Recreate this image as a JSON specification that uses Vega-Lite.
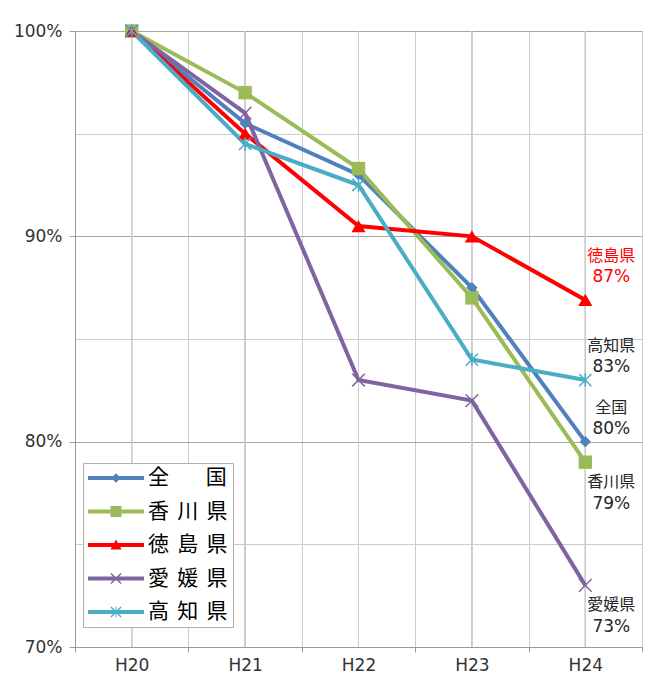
{
  "$schema": "https://vega.github.io/schema/vega-lite/v6.json",
  "width": 567,
  "height": 616,
  "autosize": "none",
  "padding": {"left": 75, "top": 31, "right": 16, "bottom": 51},
  "background": "#FFFFFF",
  "config": {"font": "DejaVu Sans", "view": {"stroke": null}},
  "data": {
    "values": [
      {"series": "全国", "year": "H20", "value": 1.0},
      {"series": "全国", "year": "H21", "value": 0.955},
      {"series": "全国", "year": "H22", "value": 0.93},
      {"series": "全国", "year": "H23", "value": 0.875},
      {"series": "全国", "year": "H24", "value": 0.8},
      {"series": "香川県", "year": "H20", "value": 1.0},
      {"series": "香川県", "year": "H21", "value": 0.97},
      {"series": "香川県", "year": "H22", "value": 0.933},
      {"series": "香川県", "year": "H23", "value": 0.87},
      {"series": "香川県", "year": "H24", "value": 0.79},
      {"series": "徳島県", "year": "H20", "value": 1.0},
      {"series": "徳島県", "year": "H21", "value": 0.95},
      {"series": "徳島県", "year": "H22", "value": 0.905},
      {"series": "徳島県", "year": "H23", "value": 0.9},
      {"series": "徳島県", "year": "H24", "value": 0.869},
      {"series": "愛媛県", "year": "H20", "value": 1.0},
      {"series": "愛媛県", "year": "H21", "value": 0.96},
      {"series": "愛媛県", "year": "H22", "value": 0.83},
      {"series": "愛媛県", "year": "H23", "value": 0.82},
      {"series": "愛媛県", "year": "H24", "value": 0.73},
      {"series": "高知県", "year": "H20", "value": 1.0},
      {"series": "高知県", "year": "H21", "value": 0.945},
      {"series": "高知県", "year": "H22", "value": 0.925},
      {"series": "高知県", "year": "H23", "value": 0.84},
      {"series": "高知県", "year": "H24", "value": 0.83}
    ]
  },
  "encoding": {
    "x": {
      "field": "year",
      "type": "ordinal",
      "scale": {"type": "band", "paddingInner": 0, "paddingOuter": 0},
      "axis": {
        "title": null,
        "labelAngle": 0,
        "tickBand": "extent",
        "grid": true,
        "gridColor": "#CCCCCC",
        "domainColor": "#999999",
        "tickColor": "#999999",
        "tickSize": 5,
        "labelFont": "DejaVu Sans",
        "labelFontSize": 17,
        "labelColor": "#333333",
        "labelPadding": 5
      }
    }
  },
  "layer": [
    {
      "mark": {"type": "rule", "color": "#CCCCCC", "strokeWidth": 1},
      "encoding": {}
    },
    {
      "mark": {"type": "line", "strokeWidth": 4},
      "encoding": {
        "y": {
          "field": "value",
          "type": "quantitative",
          "scale": {"domain": [0.7, 1.0], "nice": false, "zero": false},
          "axis": {
            "title": null,
            "values": [0.7, 0.75, 0.8, 0.85, 0.9, 0.95, 1.0],
            "labelExpr": "round(datum.value * 100) % 10 == 0 ? format(datum.value, '.0%') : ''",
            "grid": true,
            "gridColor": {"condition": {"test": "round(datum.value * 100) % 10 == 0", "value": "#A6A6A6"}, "value": "#CCCCCC"},
            "tickOpacity": {"condition": {"test": "round(datum.value * 100) % 10 == 0", "value": 1}, "value": 0},
            "domainColor": "#999999",
            "tickColor": "#999999",
            "tickSize": 6,
            "labelFont": "DejaVu Sans",
            "labelFontSize": 17,
            "labelColor": "#333333",
            "labelPadding": 7
          }
        },
        "color": {
          "field": "series",
          "type": "nominal",
          "sort": ["全国", "香川県", "徳島県", "愛媛県", "高知県"],
          "scale": {"range": ["#4F81BD", "#9BBB59", "#FF0000", "#8064A2", "#4BACC6"]},
          "legend": null
        }
      }
    },
    {
      "transform": [{"filter": "datum.series == '全国'"}],
      "mark": {"type": "point", "shape": "diamond", "filled": true, "size": 130, "opacity": 1},
      "encoding": {
        "y": {"field": "value", "type": "quantitative"},
        "color": {"field": "series", "type": "nominal", "sort": ["全国", "香川県", "徳島県", "愛媛県", "高知県"], "legend": null}
      }
    },
    {
      "transform": [{"filter": "datum.series == '香川県'"}],
      "mark": {"type": "point", "shape": "square", "filled": true, "size": 180, "opacity": 1},
      "encoding": {
        "y": {"field": "value", "type": "quantitative"},
        "color": {"field": "series", "type": "nominal", "sort": ["全国", "香川県", "徳島県", "愛媛県", "高知県"], "legend": null}
      }
    },
    {
      "transform": [{"filter": "datum.series == '徳島県'"}],
      "mark": {"type": "point", "shape": "triangle-up", "filled": true, "size": 200, "opacity": 1},
      "encoding": {
        "y": {"field": "value", "type": "quantitative"},
        "color": {"field": "series", "type": "nominal", "sort": ["全国", "香川県", "徳島県", "愛媛県", "高知県"], "legend": null}
      }
    },
    {
      "transform": [{"filter": "datum.series == '愛媛県'"}],
      "mark": {"type": "point", "shape": "M-1,-1L1,1M-1,1L1,-1", "filled": false, "size": 160, "strokeWidth": 1.5, "opacity": 1},
      "encoding": {
        "y": {"field": "value", "type": "quantitative"},
        "color": {"field": "series", "type": "nominal", "sort": ["全国", "香川県", "徳島県", "愛媛県", "高知県"], "legend": null}
      }
    },
    {
      "transform": [{"filter": "datum.series == '高知県'"}],
      "mark": {"type": "point", "shape": "M-1,-1L1,1M-1,1L1,-1M0,-1.1L0,1.1", "filled": false, "size": 150, "strokeWidth": 1.5, "opacity": 1},
      "encoding": {
        "y": {"field": "value", "type": "quantitative"},
        "color": {"field": "series", "type": "nominal", "sort": ["全国", "香川県", "徳島県", "愛媛県", "高知県"], "legend": null}
      }
    },
    {
      "mark": {"type": "point", "filled": true, "opacity": 0},
      "encoding": {
        "y": {"field": "value", "type": "quantitative"},
        "fill": {
          "field": "series",
          "type": "nominal",
          "scale": {
            "domain": ["全国", "香川県", "徳島県", "愛媛県", "高知県"],
            "range": ["#4F81BD", "#9BBB59", "#FF0000", "#8064A2", "#4BACC6"]
          },
          "legend": {
            "title": null, "orient": "none", "legendX": 8, "legendY": 432,
            "fillColor": "#FFFFFF", "strokeColor": "#B0B0B0", "padding": 5,
            "symbolSize": 3136, "symbolStrokeWidth": 0, "symbolOpacity": 1,
            "clipHeight": 20, "rowPadding": 12.5,
            "labelFont": "Noto Sans CJK JP", "labelFontSize": 21, "labelColor": "#000000",
            "labelOffset": 4, "labelLimit": 200,
            "labelExpr": "datum.label == '全国' ? '全\u3000\u2002\u2005国' : datum.label == '香川県' ? '香\u2004\u200a川\u2004\u200a県' : datum.label == '徳島県' ? '徳\u2004\u200a島\u2004\u200a県' : datum.label == '愛媛県' ? '愛\u2004\u200a媛\u2004\u200a県' : '高\u2004\u200a知\u2004\u200a県'"
          }
        },
        "shape": {
          "field": "series",
          "type": "nominal",
          "scale": {
            "domain": ["全国", "香川県", "徳島県", "愛媛県", "高知県"],
            "range": [
              "M-1,-0.07L1,-0.07L1,0.07L-1,0.07ZM0,-0.17L0.17,0L0,0.17L-0.17,0Z",
              "M-1,-0.07L1,-0.07L1,0.07L-1,0.07ZM-0.2,-0.2L0.2,-0.2L0.2,0.2L-0.2,0.2Z",
              "M-1,-0.07L1,-0.07L1,0.07L-1,0.07ZM0,-0.2L0.2,0.16L-0.2,0.16Z",
              "M-1,-0.07L1,-0.07L1,0.07L-1,0.07ZM-0.162,-0.198L0.198,0.162L0.162,0.198L-0.198,-0.162ZM-0.162,0.198L-0.198,0.162L0.162,-0.198L0.198,-0.162Z",
              "M-1,-0.07L1,-0.07L1,0.07L-1,0.07ZM-0.162,-0.198L0.198,0.162L0.162,0.198L-0.198,-0.162ZM-0.162,0.198L-0.198,0.162L0.162,-0.198L0.198,-0.162ZM-0.018,-0.2L0.018,-0.2L0.018,0.2L-0.018,0.2Z"
            ]
          },
          "legend": {
            "title": null, "orient": "none", "legendX": 8, "legendY": 432,
            "fillColor": "#FFFFFF", "strokeColor": "#B0B0B0", "padding": 5,
            "symbolSize": 3136, "symbolStrokeWidth": 0, "symbolOpacity": 1,
            "clipHeight": 20, "rowPadding": 12.5,
            "labelFont": "Noto Sans CJK JP", "labelFontSize": 21, "labelColor": "#000000",
            "labelOffset": 4, "labelLimit": 200,
            "labelExpr": "datum.label == '全国' ? '全\u3000\u2002\u2005国' : datum.label == '香川県' ? '香\u2004\u200a川\u2004\u200a県' : datum.label == '徳島県' ? '徳\u2004\u200a島\u2004\u200a県' : datum.label == '愛媛県' ? '愛\u2004\u200a媛\u2004\u200a県' : '高\u2004\u200a知\u2004\u200a県'"
          }
        }
      }
    },
    {
      "transform": [{"filter": "datum.year == 'H24' && datum.series == '徳島県'"}],
      "mark": {"type": "text", "font": "Noto Sans CJK JP", "fontSize": 16, "color": "#FF0000", "dx": 26, "dy": -44},
      "encoding": {
        "y": {"field": "value", "type": "quantitative"},
        "text": {"field": "series"}
      }
    },
    {
      "transform": [{"filter": "datum.year == 'H24' && datum.series == '徳島県'"}],
      "mark": {"type": "text", "font": "DejaVu Sans", "fontSize": 17, "color": "#FF0000", "dx": 26, "dy": -23},
      "encoding": {
        "y": {"field": "value", "type": "quantitative"},
        "text": {"field": "value", "type": "quantitative", "format": ".0%"}
      }
    },
    {
      "transform": [{"filter": "datum.year == 'H24' && (datum.series == '高知県' || datum.series == '全国')"}],
      "mark": {"type": "text", "font": "Noto Sans CJK JP", "fontSize": 16, "color": "#262626", "dx": 26, "dy": -34},
      "encoding": {
        "y": {"field": "value", "type": "quantitative"},
        "text": {"field": "series"}
      }
    },
    {
      "transform": [{"filter": "datum.year == 'H24' && (datum.series == '高知県' || datum.series == '全国')"}],
      "mark": {"type": "text", "font": "DejaVu Sans", "fontSize": 17, "color": "#262626", "dx": 26, "dy": -13},
      "encoding": {
        "y": {"field": "value", "type": "quantitative"},
        "text": {"field": "value", "type": "quantitative", "format": ".0%"}
      }
    },
    {
      "transform": [{"filter": "datum.year == 'H24' && (datum.series == '香川県' || datum.series == '愛媛県')"}],
      "mark": {"type": "text", "font": "Noto Sans CJK JP", "fontSize": 16, "color": "#262626", "dx": 26, "dy": 20},
      "encoding": {
        "y": {"field": "value", "type": "quantitative"},
        "text": {"field": "series"}
      }
    },
    {
      "transform": [{"filter": "datum.year == 'H24' && (datum.series == '香川県' || datum.series == '愛媛県')"}],
      "mark": {"type": "text", "font": "DejaVu Sans", "fontSize": 17, "color": "#262626", "dx": 26, "dy": 42},
      "encoding": {
        "y": {"field": "value", "type": "quantitative"},
        "text": {"field": "value", "type": "quantitative", "format": ".0%"}
      }
    }
  ]
}
